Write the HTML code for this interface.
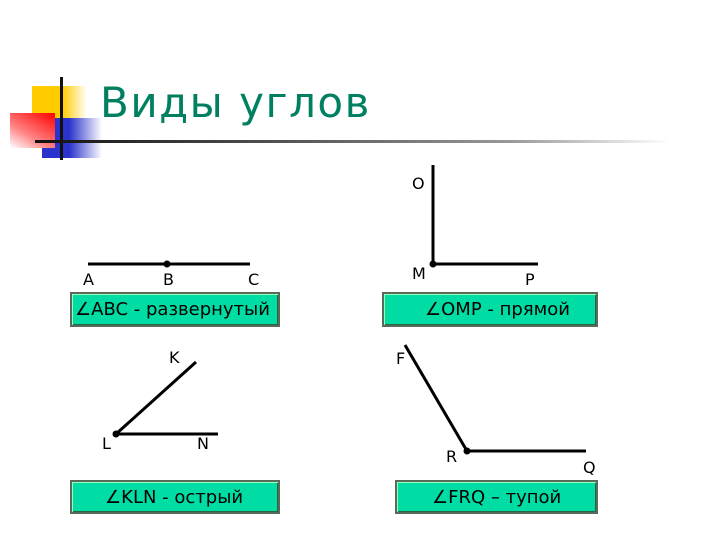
<!DOCTYPE html>
<html><head><meta charset="utf-8"><style>
body{margin:0;width:720px;height:540px;background:#fff;position:relative;overflow:hidden;font-family:"DejaVu Sans","Liberation Sans",sans-serif}
.a{position:absolute}
.box{position:absolute;background:#00DDA4;border:2px solid #5a6a5a;box-shadow:inset 1px 1px 0 #9fb,inset -1px -1px 0 #264;font-size:18px;color:#000;line-height:31px;box-sizing:border-box;white-space:nowrap}
.lbl{position:absolute;font-size:16px;color:#000}
</style></head><body>
<div class="a" style="left:32px;top:86px;width:55px;height:34px;background:linear-gradient(90deg,#ffcc00 55%,#fff)"></div>
<div class="a" style="left:42px;top:118px;width:60px;height:40px;background:linear-gradient(90deg,#2a33cc 45%,#fff)"></div>
<div class="a" style="left:10px;top:113px;width:45px;height:35px;background:linear-gradient(30deg,#fff 0%,#ff8080 40%,#ff0000 100%)"></div>
<div class="a" style="left:60px;top:77px;width:3px;height:83px;background:#111"></div>
<div class="a" style="left:35px;top:140px;width:635px;height:3px;background:linear-gradient(90deg,#111 0%,#555 40%,#999 75%,#fff 100%)"></div>
<div class="a" style="left:100px;top:78px;font-size:42px;color:#008060;letter-spacing:1.5px">Виды углов</div>

<svg class="a" style="left:0;top:0" width="720" height="540">
<g stroke="#000" stroke-width="3" fill="none">
<line x1="88" y1="264" x2="250" y2="264"/>
<line x1="433" y1="165" x2="433" y2="264"/>
<line x1="433" y1="264" x2="538" y2="264"/>
<line x1="116" y1="434" x2="196" y2="362"/>
<line x1="116" y1="434" x2="218" y2="434"/>
<line x1="405" y1="345" x2="467" y2="451"/>
<line x1="467" y1="451" x2="586" y2="451"/>
</g>
<g fill="#000"><circle cx="167" cy="264" r="3.5"/><circle cx="433" cy="264" r="3.5"/><circle cx="116" cy="434" r="3.5"/><circle cx="467" cy="451" r="3.5"/></g>
</svg>

<div class="lbl" style="left:83px;top:270px">A</div>
<div class="lbl" style="left:163px;top:270px">B</div>
<div class="lbl" style="left:248px;top:270px">C</div>
<div class="lbl" style="left:412px;top:174px">O</div>
<div class="lbl" style="left:412px;top:264px">M</div>
<div class="lbl" style="left:525px;top:270px">P</div>
<div class="lbl" style="left:169px;top:348px">K</div>
<div class="lbl" style="left:102px;top:434px">L</div>
<div class="lbl" style="left:197px;top:434px">N</div>
<div class="lbl" style="left:396px;top:349px">F</div>
<div class="lbl" style="left:446px;top:447px">R</div>
<div class="lbl" style="left:583px;top:458px">Q</div>

<div class="box" style="left:70px;top:292px;width:210px;height:35px;padding-left:3px">∠ABC - развернутый</div>
<div class="box" style="left:382px;top:292px;width:216px;height:35px;padding-left:41px">∠OMP - прямой</div>
<div class="box" style="left:70px;top:480px;width:210px;height:34px;padding-left:33px">∠KLN - острый</div>
<div class="box" style="left:395px;top:480px;width:203px;height:34px;padding-left:35px">∠FRQ – тупой</div>
</body></html>
